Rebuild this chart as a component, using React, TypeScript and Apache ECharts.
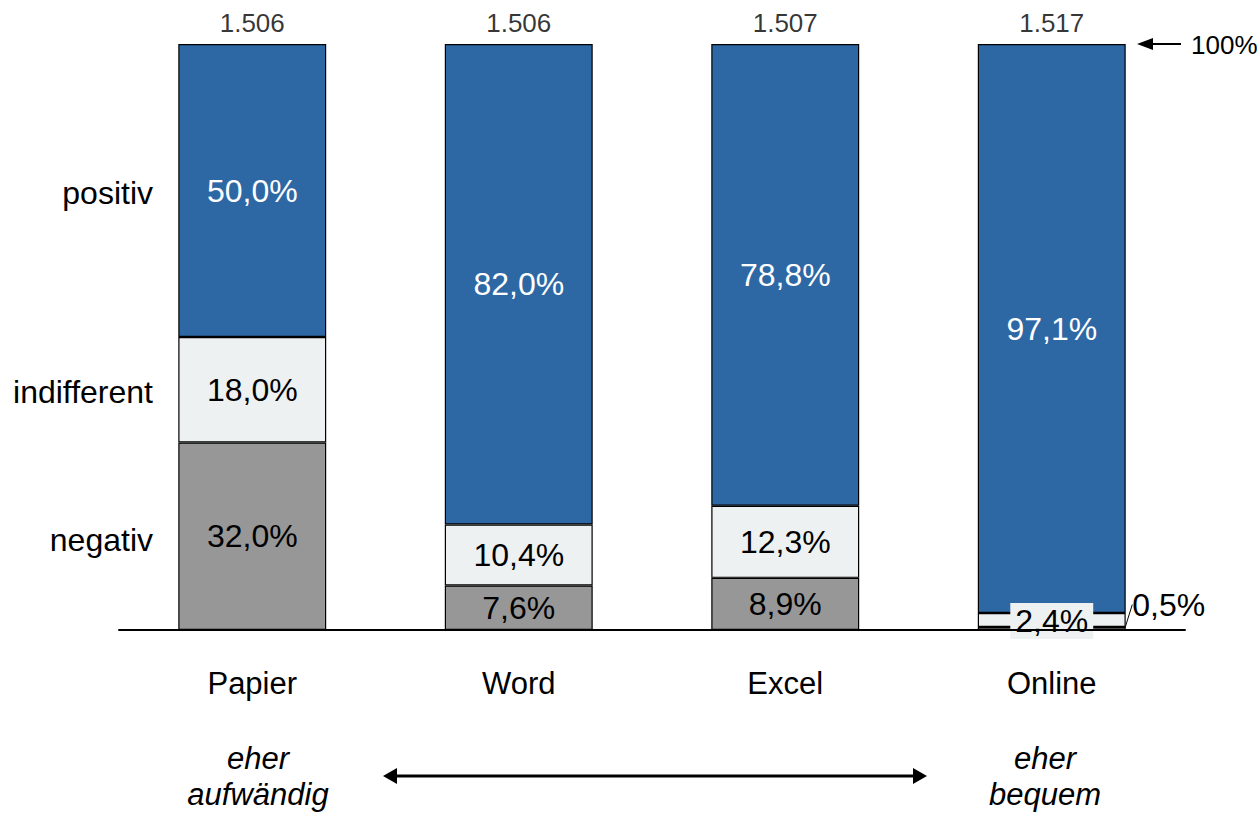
import React, { useEffect, useRef } from "react";
import * as echarts from "echarts";

const categories = ["Papier", "Word", "Excel", "Online"];
const negativ = [32.0, 7.6, 8.9, 0.5];
const indifferent = [18.0, 10.4, 12.3, 2.4];
const positiv = [50.0, 82.0, 78.8, 97.1];
const totals = ["1.506", "1.506", "1.507", "1.517"];
const rowLabels = ["positiv", "indifferent", "negativ"];
const bottomLeft = ["eher", "aufwändig"];
const bottomRight = ["eher", "bequem"];

const FONT = '"Liberation Sans", Arial, sans-serif';
const BLUE = "#2D68A5";
const LIGHT = "#EEF1F2";
const GRAY = "#979797";

const fmt = (v: number) => v.toFixed(1).replace(".", ",") + "%";

export default function App() {
  const ref = useRef<HTMLDivElement>(null);
  useEffect(() => {
    if (!ref.current) return;
    const chart = echarts.init(ref.current, null, { renderer: "svg" });
    const itemStyle = (c: string) => ({ color: c, borderColor: "#000", borderWidth: 1.2 });
    const baseLabel = {
      show: true,
      position: "inside" as const,
      fontSize: 32,
      fontFamily: FONT,
      color: "#000",
      formatter: (p: any) => fmt(p.value),
    };
    const sums = categories.map((_, i) => negativ[i] + indifferent[i] + positiv[i]);
    const option: any = {
      animation: false,
      grid: { left: 119, right: 75, top: 44, bottom: 184 },
      xAxis: {
        type: "category",
        data: categories,
        axisLine: { lineStyle: { color: "#000", width: 2 } },
        axisTick: { show: false },
        axisLabel: { fontSize: 31, fontFamily: FONT, color: "#000", margin: 38 },
        z: 10,
      },
      yAxis: { type: "value", min: 0, max: 100, show: false, splitLine: { show: false } },
      series: [
        {
          type: "bar",
          stack: "s",
          barWidth: "55.5%",
          itemStyle: itemStyle(GRAY),
          label: baseLabel,
          data: negativ,
          labelLine: { show: true, lineStyle: { color: "#000", width: 1 } },
          labelLayout: (p: any) =>
            p.dataIndex === 3 ? { dx: 117, dy: -24 } : {},
        },
        {
          type: "bar",
          stack: "s",
          barWidth: "55.5%",
          itemStyle: itemStyle(LIGHT),
          label: baseLabel,
          data: indifferent.map((v, i) =>
            i === 3
              ? { value: v, label: { backgroundColor: LIGHT, padding: [3, 5, 1, 5], offset: [0, 1] } }
              : v
          ),
        },
        {
          type: "bar",
          stack: "s",
          barWidth: "55.5%",
          itemStyle: itemStyle(BLUE),
          label: { ...baseLabel, color: "#fff" },
          data: positiv,
        },
        {
          type: "scatter",
          symbolSize: 0,
          data: sums,
          label: {
            show: true,
            position: "top",
            distance: 8,
            fontSize: 26,
            fontFamily: FONT,
            color: "#000",
            formatter: (p: any) => totals[p.dataIndex],
          },
        },
      ],
      graphic: [
        ...rowLabels.map((t, i) => ({
          type: "text",
          x: 153,
          y: [193, 392, 540][i],
          style: { text: t, fontSize: 32, fontFamily: FONT, fill: "#000", align: "right", verticalAlign: "middle" },
        })),
        { type: "line", shape: { x1: 1150, y1: 44, x2: 1181, y2: 44 }, style: { stroke: "#000", lineWidth: 2 } },
        { type: "polygon", shape: { points: [[1137, 44], [1153, 38], [1153, 50]] }, style: { fill: "#000" } },
        {
          type: "text",
          x: 1191,
          y: 45,
          style: { text: "100%", fontSize: 26, fontFamily: FONT, fill: "#000", align: "left", verticalAlign: "middle" },
        },
        { type: "line", shape: { x1: 396, y1: 776, x2: 914, y2: 776 }, style: { stroke: "#000", lineWidth: 3 } },
        { type: "polygon", shape: { points: [[383, 776], [397, 768], [397, 784]] }, style: { fill: "#000" } },
        { type: "polygon", shape: { points: [[927, 776], [913, 768], [913, 784]] }, style: { fill: "#000" } },
        ...bottomLeft.map((t, i) => ({
          type: "text",
          x: 258,
          y: [758, 794][i],
          style: { text: t, fontSize: 31, fontStyle: "italic", fontFamily: FONT, fill: "#000", align: "center", verticalAlign: "middle" },
        })),
        ...bottomRight.map((t, i) => ({
          type: "text",
          x: 1045,
          y: [758, 794][i],
          style: { text: t, fontSize: 31, fontStyle: "italic", fontFamily: FONT, fill: "#000", align: "center", verticalAlign: "middle" },
        })),
      ],
    };
    chart.setOption(option);
    return () => chart.dispose();
  }, []);
  return (
    <div
      ref={ref}
      style={{ position: "absolute", left: 0, top: 0, width: 1260, height: 814, background: "#fff" }}
    />
  );
}
